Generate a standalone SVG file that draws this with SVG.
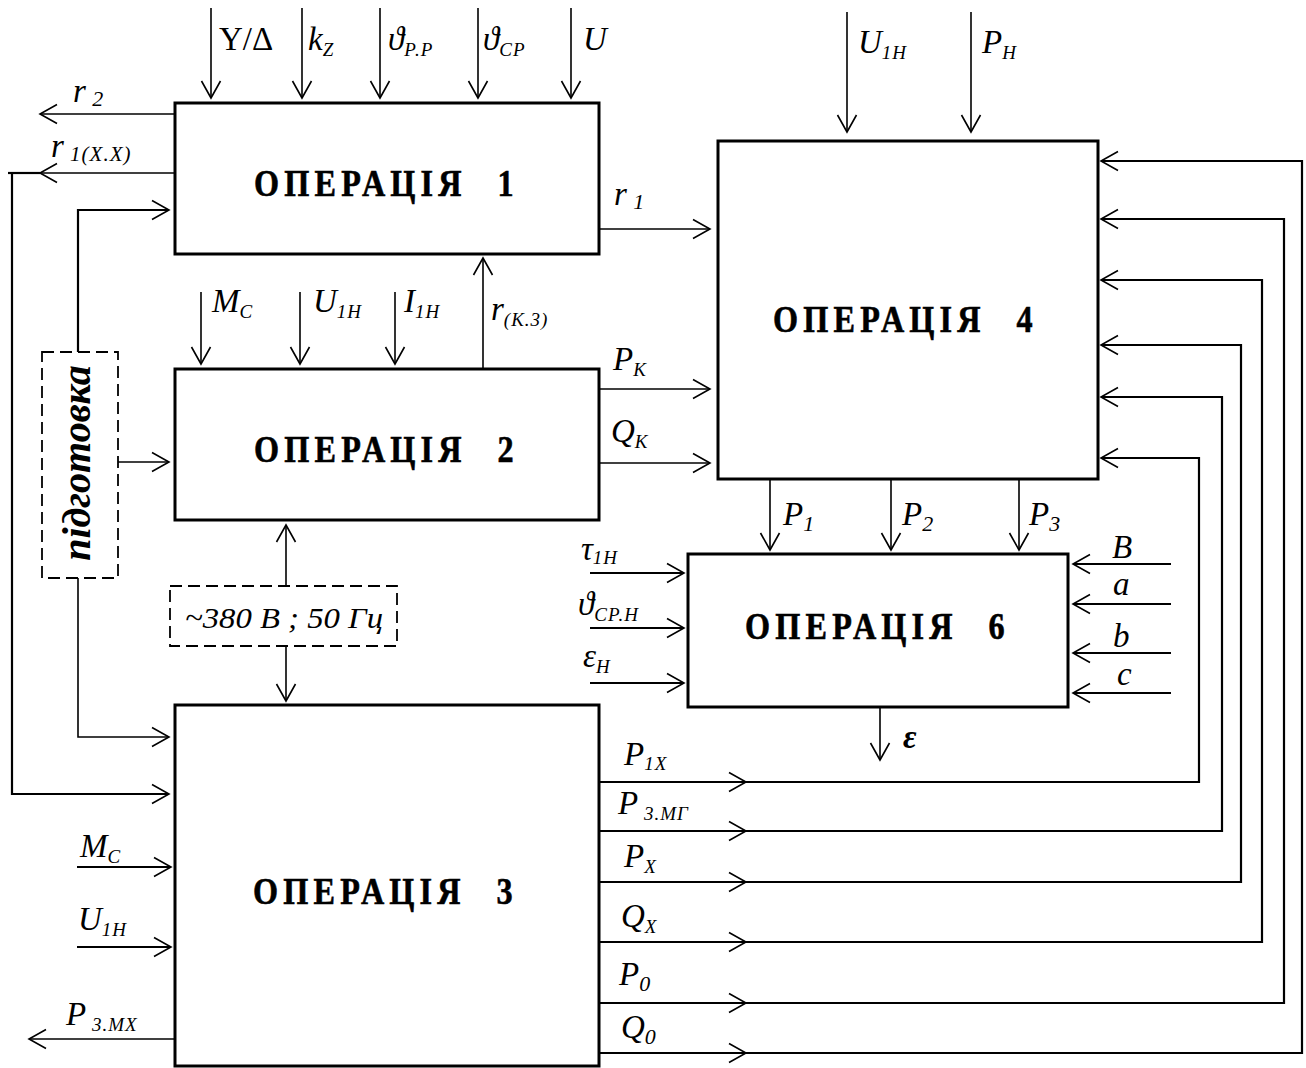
<svg xmlns="http://www.w3.org/2000/svg" width="1306" height="1068" viewBox="0 0 1306 1068">
<style>
.box{fill:#fff;stroke:#000;stroke-width:3}
.dash{fill:none;stroke:#000;stroke-width:1.8;stroke-dasharray:12 6}
.ln{fill:none;stroke:#000;stroke-width:1.6}
.lb{fill:none;stroke:#000;stroke-width:2.2}
.op{font-family:"Liberation Serif",serif;font-weight:bold;font-size:37px;letter-spacing:6px;stroke:#000;stroke-width:0.6}
.it{font-family:"Liberation Serif","DejaVu Serif",serif;font-style:italic;font-size:33px}
.up{font-family:"Liberation Serif","DejaVu Serif",serif;font-size:33px}
.sub{font-size:19px;letter-spacing:1px}
</style>
<defs>
<marker id="ah" markerUnits="userSpaceOnUse" markerWidth="20" markerHeight="22" refX="18" refY="11" orient="auto">
<path d="M1,1.5 L18,11 L1,20.5" fill="none" stroke="#000" stroke-width="1.6"/>
</marker>
</defs>
<rect width="1306" height="1068" fill="#fff"/>

<g id="connectors">
<path class="ln" d="M211,8V98" marker-end="url(#ah)"/>
<path class="ln" d="M302,8V98" marker-end="url(#ah)"/>
<path class="ln" d="M380,8V98" marker-end="url(#ah)"/>
<path class="ln" d="M478,8V98" marker-end="url(#ah)"/>
<path class="ln" d="M571,8V98" marker-end="url(#ah)"/>
<path class="ln" d="M175,114H40" marker-end="url(#ah)"/>
<path class="ln" d="M175,173H40" marker-end="url(#ah)"/>
<path class="lb" d="M40,173H8"/>
<path class="lb" d="M12,173V794H169" marker-end="url(#ah)"/>
<path class="lb" d="M78,352V210H169" marker-end="url(#ah)"/>
<path class="ln" d="M118,462H169" marker-end="url(#ah)"/>
<path class="ln" d="M78,578V737H169" marker-end="url(#ah)"/>
<path class="ln" d="M201,292V364" marker-end="url(#ah)"/>
<path class="ln" d="M300,292V364" marker-end="url(#ah)"/>
<path class="ln" d="M395,292V364" marker-end="url(#ah)"/>
<path class="ln" d="M483,369V258" marker-end="url(#ah)"/>
<path class="ln" d="M599,229H710" marker-end="url(#ah)"/>
<path class="ln" d="M599,389H710" marker-end="url(#ah)"/>
<path class="ln" d="M599,463H710" marker-end="url(#ah)"/>
<path class="ln" d="M286,586V525" marker-end="url(#ah)"/>
<path class="ln" d="M286,646V701" marker-end="url(#ah)"/>
<path class="ln" d="M847,12V132" marker-end="url(#ah)"/>
<path class="ln" d="M971,12V132" marker-end="url(#ah)"/>
<path class="ln" d="M770,479V550" marker-end="url(#ah)"/>
<path class="ln" d="M891,479V550" marker-end="url(#ah)"/>
<path class="ln" d="M1019,479V550" marker-end="url(#ah)"/>
<path class="lb" d="M590,573H684" marker-end="url(#ah)"/>
<path class="lb" d="M590,628H684" marker-end="url(#ah)"/>
<path class="lb" d="M590,683H684" marker-end="url(#ah)"/>
<path class="lb" d="M1171,564H1073" marker-end="url(#ah)"/>
<path class="lb" d="M1171,604H1073" marker-end="url(#ah)"/>
<path class="lb" d="M1171,653H1073" marker-end="url(#ah)"/>
<path class="lb" d="M1171,693H1073" marker-end="url(#ah)"/>
<path class="ln" d="M880,707V760" marker-end="url(#ah)"/>
<path class="lb" d="M77,867H171" marker-end="url(#ah)"/>
<path class="lb" d="M77,947H171" marker-end="url(#ah)"/>
<path class="ln" d="M175,1039H29" marker-end="url(#ah)"/>
<path class="lb" d="M599,782H746" marker-end="url(#ah)"/>
<path class="lb" d="M599,831H746" marker-end="url(#ah)"/>
<path class="lb" d="M599,882H746" marker-end="url(#ah)"/>
<path class="lb" d="M599,942H746" marker-end="url(#ah)"/>
<path class="lb" d="M599,1003H746" marker-end="url(#ah)"/>
<path class="lb" d="M599,1053H746" marker-end="url(#ah)"/>
<path class="lb" d="M746,782H1199V458H1101" marker-end="url(#ah)"/>
<path class="lb" d="M746,831H1222V397H1101" marker-end="url(#ah)"/>
<path class="lb" d="M746,882H1241V345H1101" marker-end="url(#ah)"/>
<path class="lb" d="M746,942H1262V280H1101" marker-end="url(#ah)"/>
<path class="lb" d="M746,1003H1284V219H1101" marker-end="url(#ah)"/>
<path class="lb" d="M746,1053H1302V161H1101" marker-end="url(#ah)"/>
</g>

<g id="op1">
<rect class="box" x="175" y="103" width="424" height="151"/>
<text class="op" transform="translate(254,196) scale(0.87,1)">ОПЕРАЦІЯ <tspan dx="20">1</tspan></text>
</g>
<g id="op2">
<rect class="box" x="175" y="369" width="424" height="151"/>
<text class="op" transform="translate(254,462) scale(0.87,1)">ОПЕРАЦІЯ <tspan dx="20">2</tspan></text>
</g>
<g id="op3">
<rect class="box" x="175" y="705" width="424" height="361"/>
<text class="op" transform="translate(253,904) scale(0.87,1)">ОПЕРАЦІЯ <tspan dx="20">3</tspan></text>
</g>
<g id="op4">
<rect class="box" x="718" y="141" width="380" height="338"/>
<text class="op" transform="translate(773,332) scale(0.87,1)">ОПЕРАЦІЯ <tspan dx="20">4</tspan></text>
</g>
<g id="op6">
<rect class="box" x="688" y="554" width="380" height="153"/>
<text class="op" transform="translate(745,639) scale(0.87,1)">ОПЕРАЦІЯ <tspan dx="20">6</tspan></text>
</g>
<g id="prep">
<rect class="dash" x="42" y="352" width="76" height="226"/>
<text style="font-family:'Liberation Serif',serif;font-weight:bold;font-style:italic;font-size:40px" transform="translate(90,463) rotate(-90)" text-anchor="middle">підготовка</text>
</g>
<g id="power">
<rect class="dash" x="170" y="586" width="227" height="60"/>
<text class="it" style="font-size:30px" x="185" y="628" textLength="198" lengthAdjust="spacingAndGlyphs">~380 В ; 50 Гц</text>
</g>

<g id="labels">
<text class="up" x="219" y="50">Y/Δ</text>
<text class="it" x="308" y="50">k<tspan class="sub" dy="6">Z</tspan></text>
<text class="it" x="388" y="50">ϑ<tspan class="sub" dy="6">Р.Р</tspan></text>
<text class="it" x="483" y="50">ϑ<tspan class="sub" dy="6">СР</tspan></text>
<text class="it" x="583" y="50">U</text>
<text class="it" x="858" y="53">U<tspan class="sub" dy="6">1Н</tspan></text>
<text class="it" x="982" y="53">P<tspan class="sub" dy="6">Н</tspan></text>
<text class="it" x="73" y="102">r<tspan class="sub" dy="4" style="font-size:22px"> 2</tspan></text>
<text class="it" x="51" y="157">r<tspan class="sub" dy="4" style="font-size:21px"> 1(Х.Х)</tspan></text>
<text class="it" x="614" y="205">r<tspan class="sub" dy="4" style="font-size:22px"> 1</tspan></text>
<text class="it" x="212" y="312">M<tspan class="sub" dy="6">С</tspan></text>
<text class="it" x="313" y="312">U<tspan class="sub" dy="6">1Н</tspan></text>
<text class="it" x="404" y="312">I<tspan class="sub" dy="6">1Н</tspan></text>
<text class="it" x="491" y="320">r<tspan class="sub" dy="6">(К.3)</tspan></text>
<text class="it" x="613" y="370">P<tspan class="sub" dy="6">К</tspan></text>
<text class="it" x="611" y="442">Q<tspan class="sub" dy="6">К</tspan></text>
<text class="it" x="783" y="525">P<tspan class="sub" dy="6" style="font-size:22px">1</tspan></text>
<text class="it" x="902" y="525">P<tspan class="sub" dy="6" style="font-size:22px">2</tspan></text>
<text class="it" x="1029" y="525">P<tspan class="sub" dy="6" style="font-size:22px">3</tspan></text>
<text class="it" x="581" y="560">τ<tspan class="sub" dy="4">1Н</tspan></text>
<text class="it" x="578" y="615">ϑ<tspan class="sub" dy="6">СР.Н</tspan></text>
<text class="it" x="583" y="667">ε<tspan class="sub" dy="6">Н</tspan></text>
<text class="it" x="1112" y="558">B</text>
<text class="it" x="1113" y="595">a</text>
<text class="it" x="1113" y="647">b</text>
<text class="it" x="1117" y="685">c</text>
<text class="it" style="font-weight:bold" x="903" y="748">ε</text>
<text class="it" x="80" y="857">M<tspan class="sub" dy="6">С</tspan></text>
<text class="it" x="78" y="930">U<tspan class="sub" dy="6">1Н</tspan></text>
<text class="it" x="66" y="1025">P<tspan class="sub" dy="6"> 3.МХ</tspan></text>
<text class="it" x="624" y="765">P<tspan class="sub" dy="5">1Х</tspan></text>
<text class="it" x="618" y="814">P<tspan class="sub" dy="6"> 3.МГ</tspan></text>
<text class="it" x="624" y="867">P<tspan class="sub" dy="6">Х</tspan></text>
<text class="it" x="621" y="927">Q<tspan class="sub" dy="6">Х</tspan></text>
<text class="it" x="619" y="985">P<tspan class="sub" dy="6" style="font-size:22px">0</tspan></text>
<text class="it" x="621" y="1038">Q<tspan class="sub" dy="6" style="font-size:22px">0</tspan></text>
</g>
</svg>
